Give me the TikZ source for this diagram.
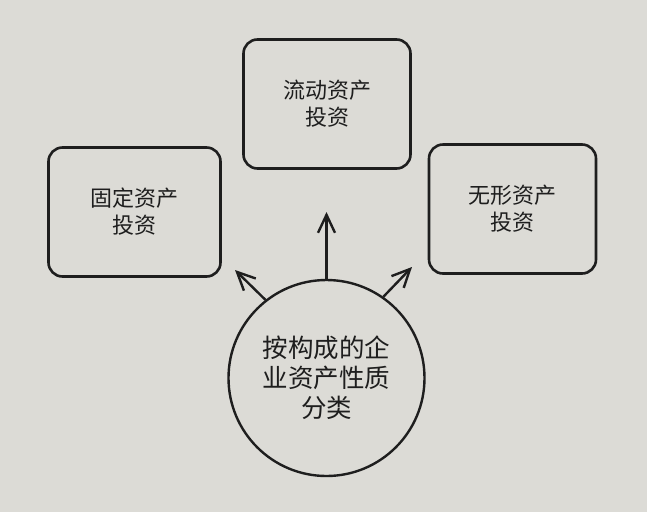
\documentclass[tikz,border=0pt]{standalone}
\usepackage{fontspec}
\newfontfamily\cjk{Noto Sans CJK SC}
\usetikzlibrary{arrows.meta}
\definecolor{paper}{HTML}{DCDBD6}
\definecolor{ink}{HTML}{1E1E1E}
\begin{document}
\begin{tikzpicture}[x=1pt,y=-1pt,
  box/.style={draw=ink, line width=2.6pt, rounded corners=14pt,
    minimum width=167pt, minimum height=129pt, align=center,
    text=ink, inner sep=0pt, font=\cjk\fontsize{22}{27}\selectfont},
  hub/.style={draw=ink, line width=2.4pt, circle, minimum size=196pt,
    align=center, text=ink, inner sep=0pt, font=\cjk\fontsize{25.5}{30}\selectfont},
  arr/.style={draw=ink, line width=2.4pt,
    -{Straight Barb[length=18pt,width=17pt,line width=2.4pt]}}]
\fill[paper] (0,0) rectangle (647,512);
\useasboundingbox (0,0) rectangle (647,512);

\node[box] (top) at (327,104) {流动资产\\投资};
\node[box, minimum width=172pt] (left) at (134.5,212) {固定资产\\投资};
\node[box] (right) at (512.5,209) {无形资产\\投资};
\node[hub] (c) at (326.5,378) {按构成的企\\业资产性质\\分类};

\coordinate (tm) at (326.5,212);
\coordinate (tl) at (235,270);
\coordinate (tr) at (412,267);

\draw[arr] (c.90) -- (tm);
\draw[arr] (c.128) -- (tl);
\draw[arr] (c.55) -- (tr);
\end{tikzpicture}
\end{document}
